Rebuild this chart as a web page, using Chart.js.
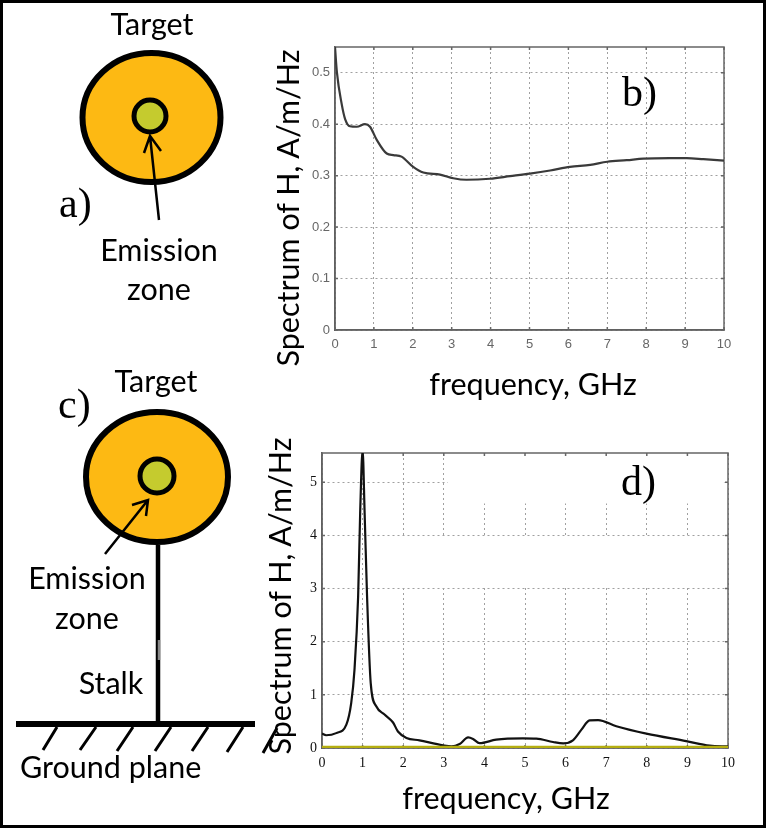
<!DOCTYPE html>
<html>
<head>
<meta charset="utf-8">
<script src="https://cdn.jsdelivr.net/npm/chart.js@4"></script>
<style>
html, body { margin: 0; padding: 0; background: #fff; }
#page { position: relative; width: 766px; height: 828px; overflow: hidden; }
#page canvas { position: absolute; }
#frame { position: absolute; left: 0; top: 0; width: 760px; height: 822px; border: 3px solid #000; }
svg { position: absolute; left: 0; top: 0; }
svg text { font-family: Lato, "Open Sans", sans-serif; font-size: 30.5px; fill: #000; }
svg text.tag { font-family: "Liberation Serif", serif; font-size: 42px; }
</style>
</head>
<body>
<div id="page">
  <div style="position:absolute;left:295px;top:37px;width:450px;height:318px"><canvas id="plot_b"></canvas></div>
  <div style="position:absolute;left:282px;top:443px;width:466px;height:330px"><canvas id="plot_d"></canvas></div>
  <svg width="766" height="828">
    <!-- a) -->
    <text x="152" y="35" text-anchor="middle">Target</text>
    <ellipse cx="151.5" cy="117.5" rx="69" ry="64.5" fill="#fdb913" stroke="#000" stroke-width="6"/>
    <circle cx="150" cy="116" r="16" fill="#c5cb2e" stroke="#000" stroke-width="5"/>
    <path d="M159 220 L150 136 M144 153 L150 136 L161 151" fill="none" stroke="#000" stroke-width="2.5"/>
    <text class="tag" x="59" y="217">a)</text>
    <text x="159" y="261" text-anchor="middle">Emission</text>
    <text x="159" y="300" text-anchor="middle">zone</text>
    <!-- c) -->
    <text x="156" y="392" text-anchor="middle">Target</text>
    <text class="tag" x="58" y="418">c)</text>
    <path d="M158 545 V722" stroke="#000" stroke-width="4.5"/>
    <path d="M159 640 V660" stroke="#888" stroke-width="2.5"/>
    <ellipse cx="157" cy="477" rx="71" ry="65" fill="#fdb913" stroke="#000" stroke-width="6"/>
    <circle cx="157" cy="476" r="17" fill="#c5cb2e" stroke="#000" stroke-width="5"/>
    <path d="M105 554 L148 500 M132 505 L148 500 L146 516" fill="none" stroke="#000" stroke-width="2.5"/>
    <text x="87" y="589" text-anchor="middle">Emission</text>
    <text x="87" y="629" text-anchor="middle">zone</text>
    <text x="111" y="694" text-anchor="middle">Stalk</text>
    <path d="M16 724 H255" stroke="#000" stroke-width="6"/>
    <path d="M57 727 L43 750 M96 727 L80 750 M133 727 L117 751 M171 727 L155 751 M208 727 L192 751 M243 727 L227 752 M277 728 L263 753" stroke="#000" stroke-width="3" fill="none"/>
    <text x="20" y="778">Ground plane</text>
    <!-- plot labels -->
    <text class="tag" x="622" y="106">b)</text>
    <text class="tag" x="621" y="495">d)</text>
    <text transform="translate(299 208) rotate(-90)" text-anchor="middle">Spectrum of H, A/m/Hz</text>
    <text transform="translate(291 596) rotate(-90)" text-anchor="middle">Spectrum of H, A/m/Hz</text>
    <text x="533" y="395" text-anchor="middle">frequency, GHz</text>
    <text x="506" y="809" text-anchor="middle">frequency, GHz</text>
  </svg>
  <div id="frame"></div>
</div>
<script>
const freq_ticks = [0, 1, 2, 3, 4, 5, 6, 7, 8, 9, 10];

const b_x = [0, 0.05, 0.17, 0.26, 0.385, 0.56, 0.77, 0.9, 1.07, 1.33, 1.5, 1.71, 2.01, 2.27, 2.7, 3.04, 3.38, 3.98, 4.5, 5.01, 5.53, 6.04, 6.56, 7, 7.5, 7.93, 8.6, 9.04, 9.47, 10];
const b_y = [0.55, 0.5, 0.44, 0.41, 0.396, 0.395, 0.4, 0.395, 0.37, 0.343, 0.34, 0.337, 0.317, 0.306, 0.302, 0.295, 0.292, 0.294, 0.299, 0.304, 0.31, 0.317, 0.321, 0.327, 0.33, 0.333, 0.334, 0.334, 0.332, 0.329];

const d_x = [0, 0.1, 0.35, 0.6, 0.72, 0.8, 0.89, 0.94, 1, 1.05, 1.11, 1.2, 1.34, 1.54, 1.75, 1.87, 2.08, 2.4, 2.98, 3.19, 3.39, 3.6, 3.72, 3.88, 4.29, 4.95, 5.28, 5.69, 5.94, 6.18, 6.39, 6.59, 6.8, 7.25, 7.99, 8.97, 9.55, 10];
const d_y = [0.27, 0.24, 0.28, 0.44, 0.85, 1.47, 2.85, 4.42, 5.6, 4.42, 2.85, 1.22, 0.78, 0.63, 0.48, 0.31, 0.19, 0.144, 0.05, 0.03, 0.075, 0.2, 0.17, 0.09, 0.157, 0.18, 0.175, 0.113, 0.088, 0.144, 0.345, 0.52, 0.526, 0.41, 0.27, 0.13, 0.044, 0.03];

const baseline_x = [0, 10];
const baseline_y = [0.02, 0.02];

// parts of the d) grid that are blanked out in the original: [x0, x1, y0, y1]
const d_blank = [[1.5, 10, 3.04, 3.96], [3.1, 9.9, 4.6, 5.53]];

function createData(xValues, yValues) {
    return xValues.map((x, index) => ({ x: x, y: yValues[index] }));
}

function makePlot(id, datasets, yMax, yStep, tickFont, tickColor, blanks, pad) {
    return new Chart(document.getElementById(id).getContext('2d'), {
        type: 'scatter',
        data: { datasets: datasets },
        options: {
            animation: false,
            responsive: true,
            maintainAspectRatio: false,
            layout: { padding: pad },
            plugins: { legend: { display: false }, tooltip: { enabled: false } },
            scales: {
                x: {
                    type: 'linear', min: 0, max: 10,
                    afterBuildTicks: (axis) => { axis.ticks = freq_ticks.map(v => ({ value: v })); },
                    afterFit: (axis) => { axis.height = 25; },
                    grid: { color: '#a0a0a0', lineWidth: 1, drawTicks: false },
                    border: { color: '#555', width: 1.5, dash: [2, 3] },
                    ticks: { color: tickColor, font: tickFont, maxRotation: 0, padding: 7 }
                },
                y: {
                    min: 0, max: yMax,
                    afterBuildTicks: (axis) => {
                        const t = [];
                        for (let i = 0; i * yStep <= yMax; i++) t.push({ value: +(i * yStep).toFixed(1) });
                        axis.ticks = t;
                    },
                    afterFit: (axis) => { axis.width = 40; axis.paddingTop = 0; axis.paddingBottom = 0; },
                    grid: { color: '#a0a0a0', lineWidth: 1, drawTicks: false },
                    border: { color: '#555', width: 1.5, dash: [2, 3] },
                    ticks: { color: tickColor, font: tickFont, padding: 5 }
                }
            }
        },
        plugins: [{
            id: 'box_and_ticks',
            beforeDatasetsDraw(chart) {
                const a = chart.chartArea, c = chart.ctx, sx = chart.scales.x, sy = chart.scales.y;
                c.save();
                c.fillStyle = '#fff';
                blanks.forEach(b => {
                    const x0 = sx.getPixelForValue(b[0]), x1 = sx.getPixelForValue(b[1]);
                    const y0 = sy.getPixelForValue(b[3]), y1 = sy.getPixelForValue(b[2]);
                    c.fillRect(x0, y0, x1 - x0, y1 - y0);
                });
                c.strokeStyle = '#666';
                c.lineWidth = 1.5;
                c.strokeRect(a.left, a.top, a.right - a.left, a.bottom - a.top);
                c.beginPath();
                sx.ticks.forEach(t => {
                    const px = sx.getPixelForValue(t.value);
                    c.moveTo(px, a.top); c.lineTo(px, a.top + 3);
                    c.moveTo(px, a.bottom); c.lineTo(px, a.bottom - 3);
                });
                sy.ticks.forEach(t => {
                    const py = sy.getPixelForValue(t.value);
                    c.moveTo(a.left, py); c.lineTo(a.left + 3, py);
                    c.moveTo(a.right, py); c.lineTo(a.right - 3, py);
                });
                c.stroke();
                c.restore();
            }
        }]
    });
}

makePlot('plot_b', [
    { data: createData(b_x, b_y), showLine: true, borderColor: '#3a3a3a', borderWidth: 2.2, pointRadius: 0, cubicInterpolationMode: 'monotone' }
], 0.55, 0.1, { family: 'Liberation Sans', size: 13 }, '#666', [], { top: 10, right: 21, left: 0, bottom: 0 });

makePlot('plot_d', [
    { data: createData(baseline_x, baseline_y), showLine: true, borderColor: '#b5ae10', borderWidth: 2.5, pointRadius: 0 },
    { data: createData(d_x, d_y), showLine: true, borderColor: '#111', borderWidth: 2.2, pointRadius: 0, cubicInterpolationMode: 'monotone' }
], 5.55, 1, { family: 'Liberation Serif', size: 14 }, '#111', d_blank, { top: 10, right: 20, left: 0, bottom: 0 });
</script>
</body>
</html>
